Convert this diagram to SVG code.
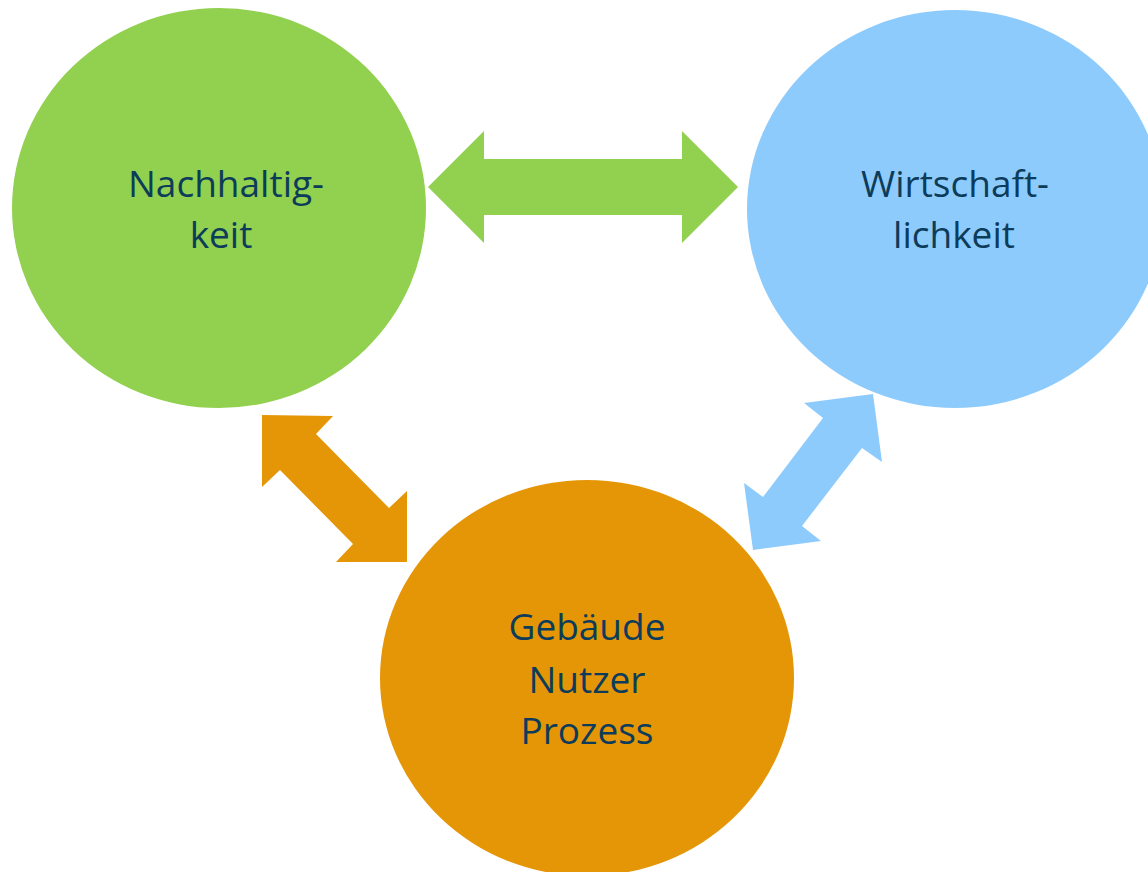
<svg xmlns="http://www.w3.org/2000/svg" width="1148" height="872" viewBox="0 0 1148 872">
  <style>
    .green { fill: #92D050; }
    .blue { fill: #8ECBFD; }
    .orange { fill: #E59607; }
    .label { font-family: "Open Sans", "Noto Sans", sans-serif; font-size: 37px; fill: #0C3C5A; text-anchor: middle; }
  </style>
  <rect width="1148" height="872" fill="#FFFFFF"/>

  <!-- double-headed block arrows between the circles -->
  <g id="connectors">
    <polygon class="green" points="428,187 484,131 484,159 682,159 682,131 738,187 682,243 682,215 484,215 484,243"/>
    <polygon class="orange" points="262,415 333,416 316,434 389,508 407,491 407,562 336,562 353,544 280,470 262,487"/>
    <polygon class="blue" points="873,394 882,462 862,448 802,526 821,541 753,550 744,483 763,497 823,418 804,403"/>
  </g>

  <g id="nachhaltigkeit">
    <ellipse class="green" cx="219" cy="208" rx="207" ry="200"/>
    <text class="label" x="226" y="197">Nachhaltig-</text>
    <text class="label" x="221" y="248">keit</text>
  </g>

  <g id="wirtschaftlichkeit">
    <ellipse class="blue" cx="955" cy="209" rx="208" ry="199"/>
    <text class="label" x="955" y="197">Wirtschaft-</text>
    <text class="label" x="954" y="248">lichkeit</text>
  </g>

  <g id="gebaeude-nutzer-prozess">
    <ellipse class="orange" cx="587" cy="678" rx="207" ry="198"/>
    <text class="label" x="587" y="640">Gebäude</text>
    <text class="label" x="587" y="693">Nutzer</text>
    <text class="label" x="587" y="744">Prozess</text>
  </g>
</svg>
